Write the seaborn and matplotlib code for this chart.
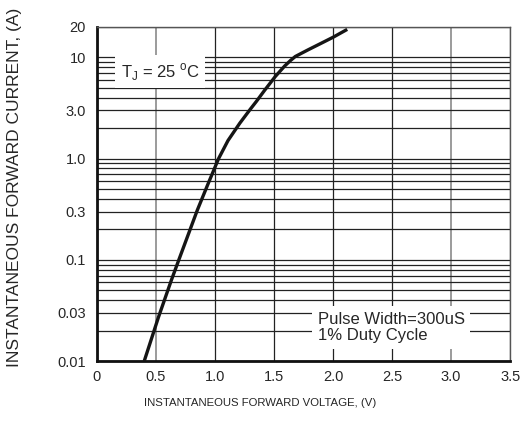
import numpy as np
import pandas as pd
import matplotlib
matplotlib.use("Agg")
import matplotlib.pyplot as plt
import matplotlib.ticker as mticker
import seaborn as sns

# Forward characteristic
voltage = [0.40, 0.52, 0.63, 0.70, 0.77, 0.85, 0.94, 1.03, 1.11, 1.21, 1.30,
           1.35, 1.42, 1.51, 1.59, 1.64, 1.68, 1.74, 1.79, 1.90, 2.00, 2.12]
current = [0.010, 0.027, 0.063, 0.105, 0.174, 0.31, 0.56, 1.0, 1.51, 2.24, 3.09,
           3.67, 4.73, 6.46, 8.22, 9.33, 10.2, 11.1, 11.9, 13.8, 15.8, 18.9]

x_ticks = [0, 0.5, 1.0, 1.5, 2.0, 2.5, 3.0, 3.5]
x_labels = ["0", "0.5", "1.0", "1.5", "2.0", "2.5", "3.0", "3.5"]
y_ticks = [0.01, 0.03, 0.1, 0.3, 1.0, 3.0, 10, 20]
y_labels = ["0.01", "0.03", "0.1", "0.3", "1.0", "3.0", "10", "20"]

df = pd.DataFrame({"V": voltage, "I": current})

sns.set_style("white")
plt.rcParams["font.family"] = ["Liberation Sans", "DejaVu Sans"]

fig = plt.figure(figsize=(5.2, 4.41), dpi=100)
ax = fig.add_axes([0.1865, 0.181, 0.7945, 0.758])

sns.lineplot(data=df, x="V", y="I", ax=ax, color="#151515", linewidth=2.4,
             solid_capstyle="butt", solid_joinstyle="round", zorder=3)

ax.set_yscale("log")
ax.set_xlim(0, 3.5)
ax.set_ylim(0.01, 20)

ax.set_xticks(x_ticks)
ax.set_xticklabels(x_labels, fontsize=10.5)
ax.set_yticks(y_ticks)
ax.set_yticklabels(y_labels, fontsize=10.5)
ax.yaxis.set_minor_locator(mticker.LogLocator(base=10, subs=np.arange(2, 10)))
ax.yaxis.set_minor_formatter(mticker.NullFormatter())
ax.tick_params(axis="both", which="both", length=0)
ax.tick_params(axis="x", pad=6)
ax.tick_params(axis="y", pad=8)

ax.grid(True, which="major", axis="x", color="#222222", linewidth=0.9)
ax.grid(True, which="both", axis="y", color="#222222", linewidth=0.9)
ax.set_axisbelow(True)
# a few of the vertical rules print lighter in the original
for i, gl in enumerate(ax.get_xgridlines()):
    if i in (1, 6):
        gl.set_color("#8a8a8a")
        gl.set_linewidth(1.2)

for side in ["left", "bottom"]:
    ax.spines[side].set_linewidth(2.0)
    ax.spines[side].set_color("#111111")
for side in ["top", "right"]:
    ax.spines[side].set_linewidth(1.0)
    ax.spines[side].set_color("#555555")

ax.set_xlabel("")
ax.set_ylabel("")

ax.text(0.2, 7.2, r"T$_\mathregular{J}$ = 25 $^\mathregular{o}$C", fontsize=12, va="center", ha="left",
        bbox=dict(facecolor="white", edgecolor="none", pad=4), zorder=4)
ax.text(1.87, 0.0215, "Pulse Width=300uS\n1% Duty Cycle", fontsize=12, va="center", ha="left",
        linespacing=1.1, bbox=dict(facecolor="white", edgecolor="none", pad=4), zorder=4)

fig.text(0.5, 0.086, "INSTANTANEOUS FORWARD VOLTAGE, (V)", ha="center", va="center", fontsize=8.2)
fig.text(0.027, 0.575, "INSTANTANEOUS FORWARD CURRENT, (A)", ha="center", va="center",
         rotation=90, fontsize=12.5)

fig.savefig("out.png", dpi=100)
